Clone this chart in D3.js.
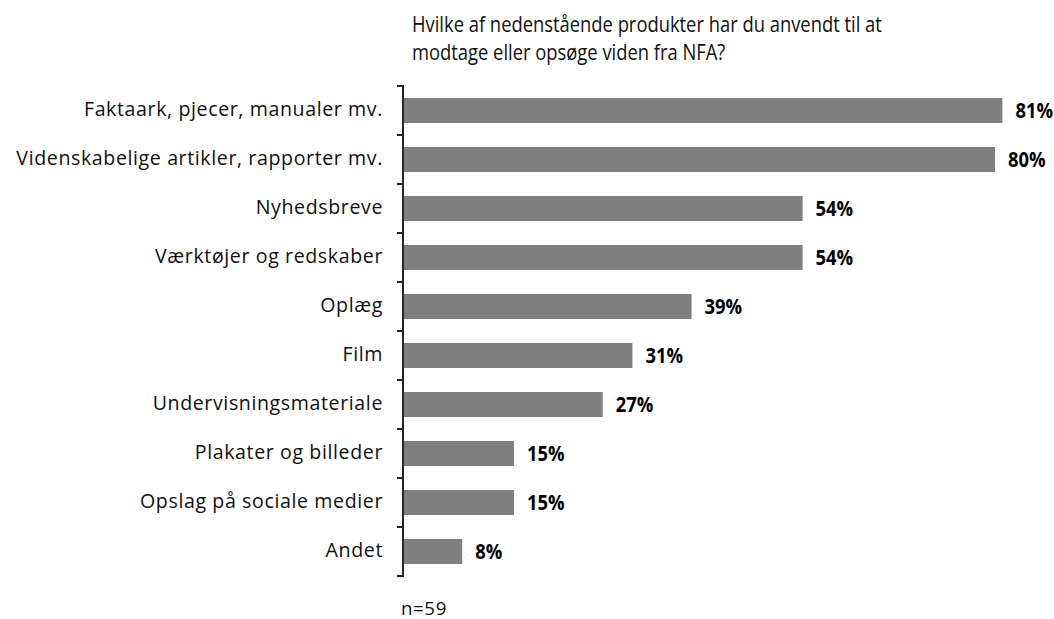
<!DOCTYPE html>
<html>
<head>
<meta charset="utf-8">
<script src="https://cdn.jsdelivr.net/npm/d3@7"></script>
<style>
  html, body { margin: 0; padding: 0; background: #fff; }
  svg text { font-family: "Open Sans", Lato, sans-serif; }
</style>
</head>
<body>
<svg id="chart" width="1054" height="619"></svg>
<script>
// Usage of NFA products (share of respondents, %)
const categories = [
  "Faktaark, pjecer, manualer mv.",
  "Videnskabelige artikler, rapporter mv.",
  "Nyhedsbreve",
  "Værktøjer og redskaber",
  "Oplæg",
  "Film",
  "Undervisningsmateriale",
  "Plakater og billeder",
  "Opslag på sociale medier",
  "Andet"
];
const values = [81, 80, 54, 54, 39, 31, 27, 15, 15, 8];
const titleLines = [
  "Hvilke af nedenstående produkter har du anvendt til at",
  "modtage eller opsøge viden fra NFA?"
];
const footnote = "n=59";

const svg = d3.select("#chart");
const axisX = 403;
const plotTop = 86, plotBottom = 576;
const narrow = 0.875; // horizontal squeeze for the tall, narrow lettering

const x = d3.scaleLinear().domain([0, 100]).range([axisX, axisX + 740]);
const y = d3.scaleBand().domain(categories).range([plotTop, plotBottom]).paddingInner(0.49).paddingOuter(0.245);
const yEdges = d3.scaleLinear().domain([0, categories.length]).range([plotTop, plotBottom]);
const yMid = c => y(c) + y.bandwidth() / 2;

// title
svg.append("g").selectAll("text").data(titleLines).join("text")
  .attr("transform", (d, i) => `translate(412,${32 + i * 28}) scale(${narrow},1)`)
  .attr("font-size", 21).attr("fill", "#111")
  .text(d => d);

// bars
svg.append("g").selectAll("rect").data(values).join("rect")
  .attr("x", x(0))
  .attr("y", (d, i) => y(categories[i]))
  .attr("width", d => x(d) - x(0))
  .attr("height", y.bandwidth())
  .attr("fill", "#7f7f7f");

// value labels
svg.append("g").selectAll("text").data(values).join("text")
  .attr("transform", (d, i) => `translate(${x(d) + 13},${yMid(categories[i]) + 7}) scale(${narrow},1)`)
  .attr("font-size", 21).attr("font-weight", "bold").attr("fill", "#000")
  .text(d => d + "%");

// category labels
svg.append("g").selectAll("text").data(categories).join("text")
  .attr("x", 383)
  .attr("y", d => yMid(d) + 5)
  .attr("text-anchor", "end")
  .attr("font-size", 19.6).attr("letter-spacing", 0.6).attr("fill", "#111")
  .text(d => d);

// axis line with ticks at category boundaries
const axis = svg.append("g").attr("stroke", "#262626").attr("stroke-width", 2);
axis.append("line").attr("x1", axisX).attr("x2", axisX).attr("y1", plotTop - 1).attr("y2", plotBottom + 1);
axis.selectAll("line.tick").data(d3.range(categories.length + 1)).join("line")
  .attr("class", "tick")
  .attr("x1", axisX - 6).attr("x2", axisX)
  .attr("y1", d => yEdges(d)).attr("y2", d => yEdges(d));

// sample size
svg.append("text").attr("x", 401).attr("y", 615)
  .attr("font-size", 18.7).attr("letter-spacing", 0.6).attr("fill", "#111").text(footnote);
</script>
</body>
</html>
